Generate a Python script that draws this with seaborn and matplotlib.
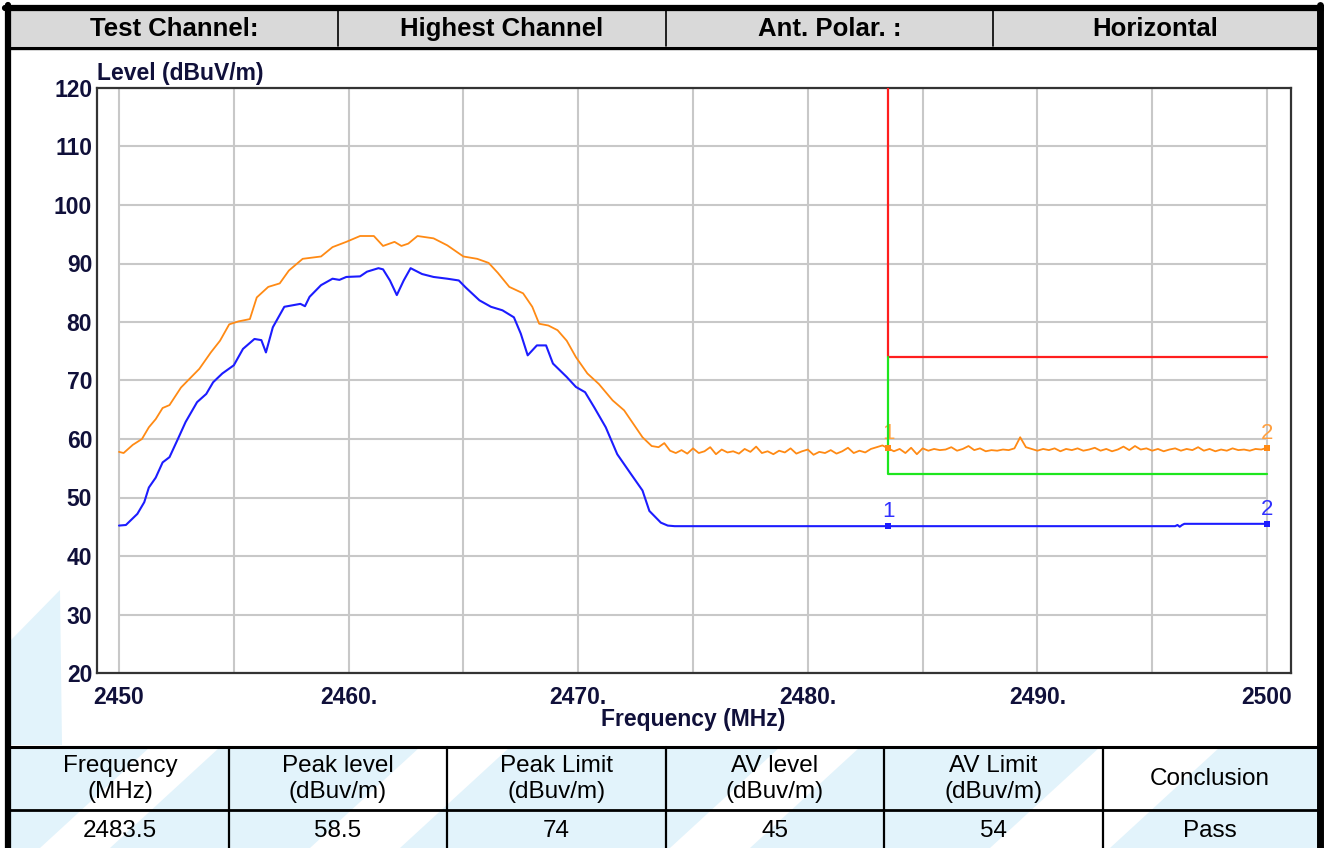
import numpy as np
import pandas as pd
import seaborn as sns
import matplotlib.pyplot as plt
from matplotlib.patches import Rectangle, Polygon

# Peak trace (orange), rising/falling part
peak_freq = [2450.0, 2450.2, 2450.4, 2450.6, 2451.0, 2451.3, 2451.6, 2451.9, 2452.2, 2452.7,
             2453.0, 2453.5, 2454.0, 2454.4, 2454.8, 2455.2, 2455.7, 2456.0, 2456.5, 2457.0,
             2457.4, 2458.0, 2458.8, 2459.3, 2459.9, 2460.5, 2461.1, 2461.5, 2462.0, 2462.3,
             2462.6, 2463.0, 2463.7, 2464.3, 2465.0, 2465.6, 2466.1, 2466.5, 2467.0, 2467.6,
             2468.0, 2468.3, 2468.7, 2469.1, 2469.5, 2469.9, 2470.4, 2470.9, 2471.5, 2472.0,
             2472.4, 2472.8, 2473.2]
peak_level = [57.8, 57.6, 58.3, 59.0, 60.0, 62.0, 63.4, 65.3, 65.8, 68.8,
              70.0, 72.0, 74.8, 76.8, 79.6, 80.1, 80.5, 84.2, 86.0, 86.6,
              88.8, 90.8, 91.2, 92.8, 93.7, 94.7, 94.7, 93.0, 93.7, 93.0,
              93.4, 94.7, 94.3, 93.1, 91.2, 90.8, 90.1, 88.4, 86.0, 84.9,
              82.6, 79.7, 79.4, 78.6, 76.8, 74.0, 71.2, 69.4, 66.6, 64.9,
              62.6, 60.3, 58.8]

# Peak noise floor, one reading every 0.25 MHz from 2473.5 MHz
floor_start = 2473.5
floor_step = 0.25
peak_floor = [58.6, 59.3, 58.0, 57.6, 58.1, 57.5, 58.4, 57.6, 57.9, 58.6,
              57.4, 58.2, 57.7, 57.9, 57.5, 58.3, 57.8, 58.7, 57.6, 57.9,
              57.4, 58.0, 57.7, 58.4, 57.5, 57.9, 58.2, 57.3, 57.8, 57.6,
              58.1, 57.5, 57.9, 58.5, 57.6, 58.0, 57.7, 58.3, 58.6, 58.9,
              58.4, 57.9, 58.3, 57.6, 58.5, 57.4, 58.4, 58.0, 58.3, 58.1,
              58.2, 58.6, 58.0, 58.3, 58.8, 58.1, 58.4, 57.9, 58.1, 58.0,
              58.2, 58.1, 58.4, 60.3, 58.6, 58.3, 58.0, 58.3, 58.1, 58.4,
              57.9, 58.3, 58.1, 58.4, 58.0, 58.2, 58.5, 58.0, 58.3, 57.9,
              58.2, 58.7, 58.1, 58.8, 58.2, 58.4, 58.0, 58.3, 57.9, 58.2,
              58.4, 58.0, 58.3, 58.1, 58.6, 58.0, 58.3, 57.9, 58.2, 58.0,
              58.4, 58.1, 58.2, 58.0, 58.3, 58.2, 58.5]

# Average trace (blue)
avg_freq = [2450.0, 2450.3, 2450.8, 2451.1, 2451.3, 2451.6, 2451.9, 2452.2, 2452.6, 2452.9,
            2453.4, 2453.8, 2454.1, 2454.5, 2455.0, 2455.4, 2455.9, 2456.2, 2456.4, 2456.7,
            2457.2, 2457.9, 2458.1, 2458.3, 2458.8, 2459.3, 2459.6, 2459.9, 2460.5, 2460.8,
            2461.3, 2461.5, 2461.8, 2462.1, 2462.4, 2462.7, 2463.2, 2463.7, 2464.3, 2464.8,
            2465.1, 2465.7, 2466.2, 2466.7, 2467.2, 2467.5, 2467.8, 2468.2, 2468.6, 2468.9,
            2469.5, 2469.9, 2470.3, 2470.7, 2471.2, 2471.7, 2472.3, 2472.8, 2473.1, 2473.6,
            2473.9, 2474.2, 2483.5, 2496.0, 2496.1, 2496.2, 2496.3, 2496.4, 2500.0]
avg_level = [45.2, 45.3, 47.2, 49.2, 51.7, 53.4, 56.0, 56.9, 60.3, 62.9,
             66.3, 67.7, 69.7, 71.2, 72.6, 75.4, 77.1, 76.9, 74.8, 79.1,
             82.6, 83.1, 82.7, 84.3, 86.3, 87.4, 87.2, 87.7, 87.8, 88.6,
             89.2, 89.0, 87.1, 84.6, 87.1, 89.2, 88.2, 87.7, 87.4, 87.1,
             85.9, 83.7, 82.6, 82.0, 80.8, 78.0, 74.3, 76.0, 76.0, 72.9,
             70.6, 68.9, 68.0, 65.4, 62.0, 57.4, 54.0, 51.2, 47.7, 45.7,
             45.2, 45.1, 45.1, 45.1, 45.3, 45.0, 45.3, 45.5, 45.5]

# limits (restricted band edge)
band_edge = 2483.5
stop_freq = 2500
peak_limit = 74
av_limit = 54

# markers
marker_freq = [2483.5, 2500]
marker_peak = [58.4, 58.5]
marker_avg = [45.1, 45.5]
marker_names = ['1', '2']

x_ticks = [2450, 2460, 2470, 2480, 2490, 2500]
x_tick_labels = ['2450', '2460.', '2470.', '2480.', '2490.', '2500']
x_grid = [2450, 2455, 2460, 2465, 2470, 2475, 2480, 2485, 2490, 2495, 2500]
y_ticks = [20, 30, 40, 50, 60, 70, 80, 90, 100, 110, 120]

header_cells = ['Test Channel:', 'Highest Channel', 'Ant. Polar. :', 'Horizontal']
table_head = ['Frequency\n(MHz)', 'Peak level\n(dBuv/m)', 'Peak Limit\n(dBuv/m)',
              'AV level\n(dBuv/m)', 'AV Limit\n(dBuv/m)', 'Conclusion']
table_row = ['2483.5', '58.5', '74', '45', '54', 'Pass']

sns.set_style("white")
plt.rcParams['font.family'] = ['Liberation Sans', 'DejaVu Sans']

W, H = 1324, 848
fig = plt.figure(figsize=(W / 100, H / 100), dpi=100)

# page in pixel coordinates
bg = fig.add_axes([0, 0, 1, 1])
bg.set_xlim(0, W)
bg.set_ylim(H, 0)
bg.axis('off')

# watermark swooshes (light blue)
wm = '#e2f3fb'
bg.add_patch(Polygon([(11, 745), (11, 640), (60, 590), (62, 745)], closed=True, color=wm, lw=0))
bg.add_patch(Rectangle((11, 747), 1306, 101, color=wm, lw=0))
for x0, wd in [(40, 70), (310, 90), (670, 80), (990, 120)]:
    bg.add_patch(Polygon([(x0, 848), (x0 + wd, 848), (x0 + wd + 110, 747), (x0 + 110, 747)],
                         closed=True, color='white', lw=0))

# header row
bg.add_patch(Rectangle((11, 11), 1306, 35, color='#d9d9d9', lw=0))
header_edges = [11, 338, 666, 993, 1317]
for i, txt in enumerate(header_cells):
    bg.text((header_edges[i] + header_edges[i + 1]) / 2, 29, txt, ha='center', va='center',
            fontsize=18.5, fontweight='bold', color='black')
for x in header_edges[1:-1]:
    bg.plot([x, x], [11, 46], color='black', lw=1.2)
bg.plot([8, 1320], [47.5, 47.5], color='black', lw=2.4)

# bottom table
table_edges = [11, 229, 447, 666, 884, 1103, 1317]
bg.plot([8, 1320], [747, 747], color='black', lw=2.2)
bg.plot([8, 1320], [810, 810], color='black', lw=2.0)
for x in table_edges[1:-1]:
    bg.plot([x, x], [747, 848], color='black', lw=1.6)
for i in range(6):
    cx = (table_edges[i] + table_edges[i + 1]) / 2
    bg.text(cx, 779, table_head[i], ha='center', va='center', fontsize=17.5,
            linespacing=1.2, color='black')
    bg.text(cx, 831, table_row[i], ha='center', va='center', fontsize=17.5, color='black')

# outer border
bg.plot([8, 8], [5, 848], color='black', lw=4.5)
bg.plot([1320, 1320], [5, 848], color='black', lw=5)
bg.plot([5, 1323], [8, 8], color='black', lw=4.5)

# axis titles
bg.text(97, 80, 'Level (dBuV/m)', ha='left', va='baseline', fontsize=16.5,
        fontweight='bold', color='#10103a')
bg.text(693, 726, 'Frequency (MHz)', ha='center', va='baseline', fontsize=16.5,
        fontweight='bold', color='#10103a')

# chart
ax = fig.add_axes([97 / W, 1 - 673 / H, (1291 - 97) / W, (673 - 88) / H])
ax.set_zorder(2)
ax.set_facecolor('white')
ax.set_xlim(2450 - 22 / 22.96, 2500 + 24 / 22.96)
ax.set_ylim(20, 120)

ax.vlines(x_grid, y_ticks[0], y_ticks[-1], color='#c8c8c8', lw=1.5, zorder=1)
ax.hlines(y_ticks, x_grid[0], x_grid[-1], color='#c8c8c8', lw=1.5, zorder=1)

floor_freq = list(floor_start + floor_step * np.arange(len(peak_floor)))
peak_df = pd.DataFrame({'freq': peak_freq + floor_freq, 'level': peak_level + peak_floor})
avg_df = pd.DataFrame({'freq': avg_freq, 'level': avg_level})

sns.lineplot(data=peak_df, x='freq', y='level', color='#ff8a14', lw=1.3,
             estimator=None, sort=False, ax=ax, zorder=3)
sns.lineplot(data=avg_df, x='freq', y='level', color='#1c1cff', lw=1.5,
             estimator=None, sort=False, ax=ax, zorder=4)

ax.plot([band_edge, band_edge, stop_freq], [y_ticks[-1], peak_limit, peak_limit],
        color='#ff1e1e', lw=1.6, zorder=5)
ax.plot([band_edge, band_edge, stop_freq], [peak_limit, av_limit, av_limit],
        color='#1ee61e', lw=1.6, zorder=5)

ax.scatter(marker_freq, marker_peak, marker='s', s=22, color='#ff8a14', zorder=6, lw=0)
ax.scatter(marker_freq, marker_avg, marker='s', s=22, color='#1c1cff', zorder=6, lw=0)
for f, p, a, n in zip(marker_freq, marker_peak, marker_avg, marker_names):
    ax.annotate(n, (f, p), xytext=(0, 3), textcoords='offset points', ha='center',
                va='bottom', fontsize=16, color='#ffa040', zorder=4)
    ax.annotate(n, (f, a), xytext=(0, 3), textcoords='offset points', ha='center',
                va='bottom', fontsize=16, color='#3030ff', zorder=7)

ax.set_xticks(x_ticks)
ax.set_xticklabels(x_tick_labels, fontweight='bold', fontsize=16.5, color='#10103a')
ax.set_yticks(y_ticks)
ax.set_yticklabels([str(v) for v in y_ticks], fontweight='bold', fontsize=16.5, color='#10103a')
ax.tick_params(axis='x', length=0, pad=9)
ax.tick_params(axis='y', length=0, pad=3.5)
ax.set_xlabel('')
ax.set_ylabel('')
for s in ax.spines.values():
    s.set_color('#333333')
    s.set_linewidth(1.6)

fig.savefig('out.png', dpi=100)
